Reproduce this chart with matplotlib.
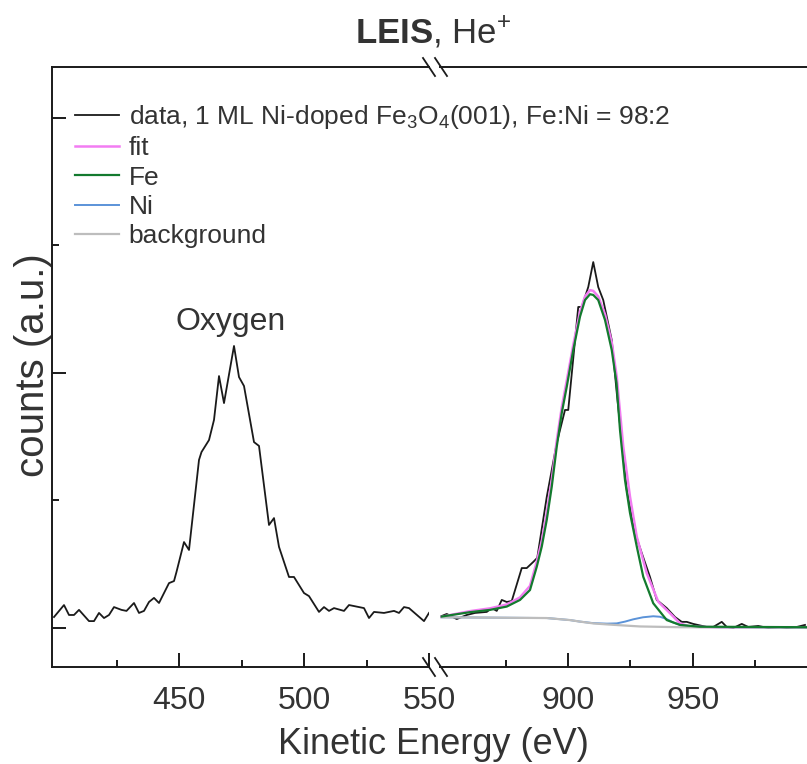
import matplotlib.pyplot as plt
from matplotlib.lines import Line2D
from matplotlib.ticker import MultipleLocator, FixedLocator

plt.rcParams['font.family'] = ['Liberation Sans', 'DejaVu Sans']
plt.rcParams['mathtext.fontset'] = 'custom'
plt.rcParams['mathtext.rm'] = 'Liberation Sans'
plt.rcParams['mathtext.it'] = 'Liberation Sans:italic'
plt.rcParams['mathtext.bf'] = 'Liberation Sans:bold'

TXT = '#333333'

# Oxygen region (left segment)
ox_energy = [400, 404, 406, 408, 410, 414, 416, 418, 420, 422, 424, 427, 429, 432, 434,
             436, 438, 440, 442, 446, 448, 449, 452, 454, 458, 459, 462, 464, 466, 468,
             472, 474, 476, 480, 482, 486, 488, 490, 494, 496, 500, 502, 506, 508, 510,
             512, 516, 518, 524, 526, 528, 532, 536, 538, 540, 542, 548, 550]
ox_counts = [0.043, 0.090, 0.051, 0.051, 0.071, 0.027, 0.027, 0.059, 0.039, 0.051, 0.082,
             0.071, 0.067, 0.098, 0.059, 0.067, 0.102, 0.118, 0.098, 0.176, 0.184, 0.220,
             0.337, 0.306, 0.659, 0.690, 0.737, 0.816, 0.988, 0.882, 1.106, 0.984, 0.949,
             0.729, 0.714, 0.404, 0.431, 0.318, 0.200, 0.200, 0.137, 0.125, 0.063, 0.082,
             0.067, 0.078, 0.067, 0.090, 0.078, 0.039, 0.063, 0.059, 0.067, 0.059, 0.082,
             0.078, 0.027, 0.059]

# Fe / Ni region (right segment)
fe_energy = [849.5, 851.5, 855.5, 859.5, 862.8, 867.5, 869.5, 871.5, 873.5, 875.5, 877.5,
             881.5, 883.5, 886.1, 887.7, 891.5, 895.5, 898.8, 900.1, 904.1, 905.5, 908.1,
             910.1, 912.1, 914.1, 917.5, 919.5, 923.5, 926.8, 929.5, 932.8, 935.5, 939.5,
             942.8, 945.5, 947.5, 950.1, 955.5, 958.1, 961.5, 963.5, 966.1, 969.5, 972.1,
             976.1, 980.1, 984.8, 987.5, 991.5, 994.8]
fe_counts = [0.047, 0.055, 0.035, 0.051, 0.059, 0.063, 0.078, 0.067, 0.110, 0.102, 0.106,
             0.235, 0.235, 0.259, 0.275, 0.514, 0.725, 0.855, 0.855, 1.259, 1.259, 1.337,
             1.435, 1.337, 1.286, 1.129, 0.922, 0.541, 0.373, 0.294, 0.200, 0.110, 0.078,
             0.043, 0.024, 0.024, 0.016, 0.004, 0.004, 0.024, 0.004, 0.000, 0.016, 0.004,
             0.008, 0.000, 0.004, 0.000, 0.004, 0.012]

fit_energy = [848.8, 860.8, 868.8, 875.5, 880.8, 884.8, 887.5, 889.5, 891.5, 893.5, 895.5,
              897.5, 899.5, 902.1, 904.8, 906.8, 908.8, 910.1, 912.1, 914.8, 917.5, 919.5,
              922.1, 924.8, 927.5, 931.5, 936.1, 940.8, 944.8, 948.8, 960.0, 995.6]
fit_counts = [0.043, 0.066, 0.077, 0.092, 0.120, 0.165, 0.260, 0.340, 0.450, 0.580, 0.735,
              0.865, 0.970, 1.110, 1.240, 1.300, 1.325, 1.322, 1.300, 1.230, 1.120, 0.985,
              0.711, 0.515, 0.358, 0.215, 0.103, 0.058, 0.018, 0.005, 0.003, 0.003]

fe_fit_energy = [849.5, 860.8, 868.8, 875.5, 880.8, 884.8, 887.5, 889.5, 891.5, 893.5, 895.5,
                 897.5, 899.5, 902.1, 904.8, 906.8, 908.8, 910.1, 912.1, 914.8, 917.5, 919.4,
                 920.8, 922.8, 924.8, 927.5, 930.1, 934.1, 939.5, 944.8, 952.8, 995.6]
fe_fit_counts = [0.045, 0.062, 0.071, 0.084, 0.110, 0.149, 0.240, 0.319, 0.424, 0.554, 0.711,
                 0.843, 0.946, 1.090, 1.221, 1.286, 1.309, 1.306, 1.286, 1.208, 1.090, 0.961,
                 0.776, 0.580, 0.451, 0.320, 0.201, 0.097, 0.031, 0.012, 0.005, 0.003]

ni_energy = [849.5, 891.5, 900.8, 904.8, 910.1, 915.6, 919.5, 922.8, 926.1, 930.0, 934.1,
             936.8, 939.5, 942.0, 944.8, 950.0, 960.8, 995.6]
ni_counts = [0.042, 0.039, 0.031, 0.025, 0.019, 0.017, 0.018, 0.025, 0.034, 0.042, 0.046,
             0.044, 0.035, 0.022, 0.012, 0.005, 0.003, 0.002]

bg_energy = [849.5, 891.5, 900.8, 904.8, 910.1, 915.6, 922.0, 928.8, 944.8, 995.6]
bg_counts = [0.042, 0.039, 0.031, 0.025, 0.018, 0.014, 0.010, 0.006, 0.003, 0.002]

W, H = 807, 764
fig = plt.figure(figsize=(W / 100, H / 100), dpi=100)

x_left, x_break_l, x_break_r, x_right = 52, 429, 440, 807
y_top, y_bot = 67, 667
ax1 = fig.add_axes([x_left / W, 1 - y_bot / H, (x_break_l - x_left) / W, (y_bot - y_top) / H])
ax2 = fig.add_axes([x_break_r / W, 1 - y_bot / H, (x_right - x_break_r) / W, (y_bot - y_top) / H])

ylim = (-0.153, 2.2)
ax1.set_xlim(399.2, 550)
ax2.set_xlim(848.8, 995.6)
for ax in (ax1, ax2):
    ax.set_ylim(*ylim)
    for s in ax.spines.values():
        s.set_linewidth(1.4)
        s.set_color('#1a1a1a')
    ax.tick_params(axis='both', which='both', direction='in', colors='#1a1a1a',
                   labelcolor=TXT, labelsize=23, width=1.4, top=False, right=False, pad=14)
    ax.tick_params(which='major', length=10)
    ax.tick_params(which='minor', length=5)

ax1.spines['right'].set_visible(False)
ax2.spines['left'].set_visible(False)
ax2.spines['right'].set_visible(False)

ax1.xaxis.set_major_locator(FixedLocator([450, 500, 550]))
ax1.xaxis.set_minor_locator(FixedLocator([425, 475, 525]))
ax2.xaxis.set_major_locator(FixedLocator([900, 950]))
ax2.xaxis.set_minor_locator(FixedLocator([875, 925, 975]))
ax1.yaxis.set_major_locator(MultipleLocator(1))
ax1.yaxis.set_minor_locator(MultipleLocator(0.5))
ax1.set_yticklabels([])
ax2.tick_params(axis='y', which='both', left=False, labelleft=False)

# curves
ax1.plot(ox_energy, ox_counts, color='#1a1a1a', lw=1.3, zorder=2)
l_data, = ax2.plot(fe_energy, fe_counts, color='#1a1a1a', lw=1.3, zorder=2)
l_fit, = ax2.plot(fit_energy, fit_counts, color='#f27cf2', lw=1.8, zorder=3)
l_ni, = ax2.plot(ni_energy, ni_counts, color='#5b93d8', lw=1.4, zorder=4)
l_bg, = ax2.plot(bg_energy, bg_counts, color='#bdbdbd', lw=1.6, zorder=5)
l_fe, = ax2.plot(fe_fit_energy, fe_fit_counts, color='#137a2e', lw=1.6, zorder=6)

ax1.text(470.8, 1.2, 'Oxygen', fontsize=23, color=TXT, ha='center', va='center')

fig.legend([l_data, l_fit, l_fe, l_ni, l_bg],
           ['data, 1 ML Ni-doped Fe$_3$O$_4$(001), Fe:Ni = 98:2', 'fit', 'Fe', 'Ni', 'background'],
           loc='upper left', bbox_to_anchor=(75 / W, 1 - 103 / H), frameon=False,
           fontsize=19, handlelength=1.65, handletextpad=0.38, labelspacing=0.2,
           borderaxespad=0, borderpad=0, labelcolor=TXT)

fig.text(33 / W, 1 - 365 / H, 'counts (a.u.)', rotation=90, fontsize=29, color=TXT,
         ha='center', va='center')
fig.text(433 / W, 1 - 745 / H, 'Kinetic Energy (eV)', fontsize=26, color=TXT,
         ha='center', va='center')
fig.text(433 / W, 1 - 33 / H, r'$\mathbf{LEIS}$, He$^{+}$', fontsize=25, color=TXT,
         ha='center', va='center')

# break marks
for yc in (y_top, y_bot):
    for x0 in (423, 435):
        fig.add_artist(Line2D([x0 / W, (x0 + 12) / W], [1 - (yc - 9) / H, 1 - (yc + 9) / H],
                              transform=fig.transFigure, color='#1a1a1a', lw=1.3))

fig.savefig('out.png', dpi=100)
